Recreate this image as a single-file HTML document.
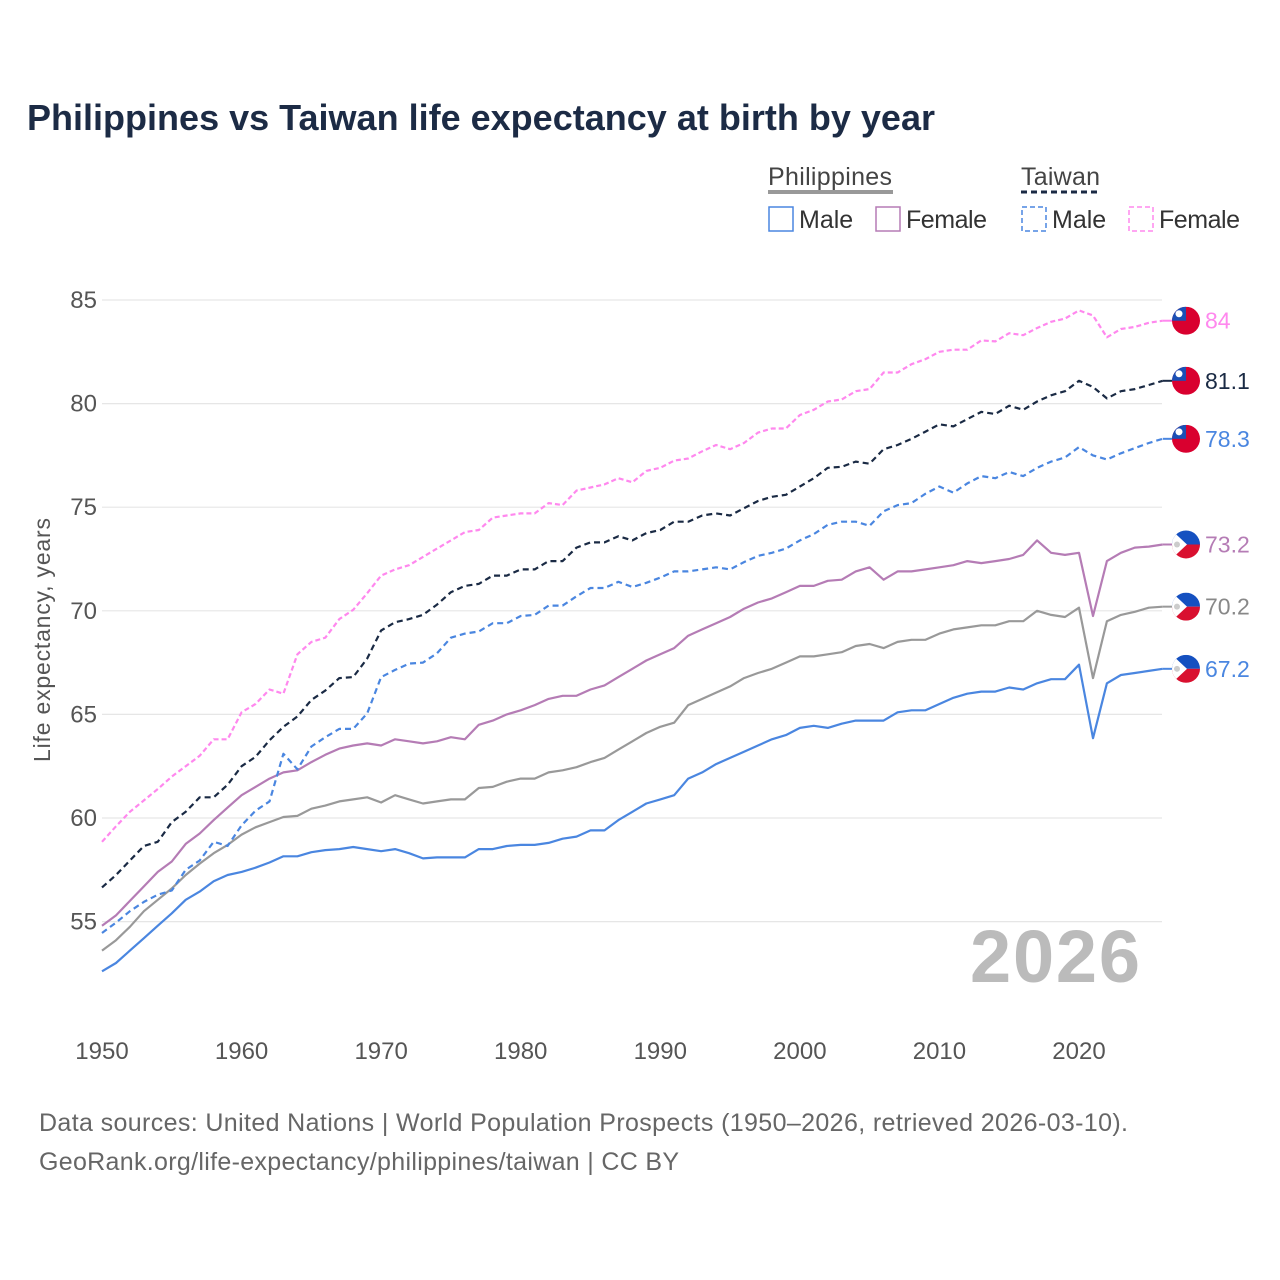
<!DOCTYPE html>
<html><head><meta charset="utf-8"><style>
body{margin:0;background:#fff;font-family:"Liberation Sans",sans-serif;}
#wrap{position:relative;width:1280px;height:1280px;overflow:hidden;}
</style></head><body>
<div id="wrap">
<svg id="chart" width="1280" height="1280" xmlns="http://www.w3.org/2000/svg">
<text x="27" y="130" font-size="36" font-weight="bold" fill="#1c2b45" textLength="908">Philippines vs Taiwan life expectancy at birth by year</text>
<g font-size="25" fill="#333">
  <text x="768" y="185" fill="#444" textLength="124">Philippines</text>
  <line x1="768" y1="192" x2="893" y2="192" stroke="#999" stroke-width="4"/>
  <text x="1021" y="185" fill="#444" textLength="79">Taiwan</text>
  <line x1="1021" y1="192" x2="1101" y2="192" stroke="#1a2a44" stroke-width="3" stroke-dasharray="6,4"/>
  <g><rect x="769" y="207" width="24" height="24" fill="none" stroke="#4a86e0" stroke-width="1.5"/><text x="799" y="228">Male</text></g>
  <g><rect x="876" y="207" width="24" height="24" fill="none" stroke="#b57cb5" stroke-width="1.5"/><text x="906" y="228" textLength="81">Female</text></g>
  <g><rect x="1022" y="207" width="24" height="24" fill="none" stroke="#4a86e0" stroke-width="1.5" stroke-dasharray="5,3"/><text x="1052" y="228">Male</text></g>
  <g><rect x="1129" y="207" width="24" height="24" fill="none" stroke="#ff88ee" stroke-width="1.5" stroke-dasharray="5,3"/><text x="1159" y="228" textLength="81">Female</text></g>
</g>
<text x="0" y="0" transform="translate(50,640) rotate(-90)" text-anchor="middle" font-size="23" fill="#555" textLength="244">Life expectancy, years</text>
<text x="1140" y="982" text-anchor="end" font-size="74" font-weight="bold" fill="#bbb" textLength="170">2026</text>
<g id="grid"></g><g id="axes"></g><g id="lines"></g><g id="ends"></g>
<g font-size="25" fill="#666">
<text x="39" y="1131" textLength="1089">Data sources: United Nations | World Population Prospects (1950–2026, retrieved 2026-03-10).</text>
<text x="39" y="1170" textLength="640">GeoRank.org/life-expectancy/philippines/taiwan | CC BY</text>
</g>
</svg>
</div>
<script>
const startYear = 1950;
const yTicks = [55, 60, 65, 70, 75, 80, 85];
const xTicks = [1950, 1960, 1970, 1980, 1990, 2000, 2010, 2020];
const phMale = [52.6,53.0,53.6,54.2,54.8,55.4,56.05,56.45,56.95,57.25,57.4,57.6,57.85,58.15,58.15,58.35,58.45,58.5,58.6,58.5,58.4,58.5,58.3,58.05,58.1,58.1,58.1,58.5,58.5,58.65,
58.7,58.7,58.8,59.0,59.1,59.4,59.4,59.9,60.3,60.7,60.9,61.1,61.9,62.2,62.6,62.9,63.2,63.5,63.8,64.0,64.35,64.45,64.35,64.55,64.7,64.7,64.7,65.1,65.2,65.2,65.5,65.8,66.0,66.1,66.1,66.3,66.2,66.5,66.7,66.7,67.4,63.85,66.5,66.9,67.0,67.1,67.2];
const phFemale = [54.8,55.3,56.0,56.7,57.4,57.9,58.75,59.25,59.9,60.5,61.1,61.5,61.9,62.2,62.3,62.7,63.05,63.35,63.5,63.6,63.5,63.8,63.7,63.6,63.7,63.9,63.8,64.5,64.7,65.0,
65.2,65.45,65.75,65.9,65.9,66.2,66.4,66.8,67.2,67.6,67.9,68.2,68.8,69.1,69.4,69.7,70.1,70.4,70.6,70.9,71.2,71.2,71.45,71.5,71.9,72.1,71.5,71.9,71.9,72.0,72.1,72.2,72.4,72.3,72.4,72.5,72.7,73.4,72.8,72.7,72.8,69.75,72.4,72.8,73.05,73.1,73.2];
const phTotal = [53.6,54.1,54.75,55.5,56.05,56.6,57.25,57.8,58.3,58.7,59.2,59.55,59.8,60.05,60.1,60.45,60.6,60.8,60.9,61.0,60.75,61.1,60.9,60.7,60.8,60.9,60.9,61.45,61.5,61.75,
61.9,61.9,62.2,62.3,62.45,62.7,62.9,63.3,63.7,64.1,64.4,64.6,65.45,65.75,66.05,66.35,66.75,67.0,67.2,67.5,67.8,67.8,67.9,68.0,68.3,68.4,68.2,68.5,68.6,68.6,68.9,69.1,69.2,69.3,69.3,69.5,69.5,70.0,69.8,69.7,70.15,66.75,69.5,69.8,69.95,70.15,70.2];
const twTotal = [56.65,57.25,57.95,58.65,58.85,59.8,60.3,61.0,61.0,61.6,62.5,62.95,63.75,64.4,64.9,65.7,66.15,66.75,66.8,67.7,69.05,69.45,69.6,69.8,70.3,70.9,71.2,71.3,71.7,71.7,
72.0,72.0,72.4,72.4,73.05,73.3,73.3,73.6,73.4,73.75,73.9,74.3,74.3,74.6,74.7,74.6,74.95,75.3,75.5,75.6,76.0,76.4,76.9,76.95,77.2,77.1,77.8,78.0,78.3,78.65,79.0,78.9,79.25,79.6,79.5,79.9,79.7,80.1,80.4,80.6,81.1,80.8,80.25,80.6,80.7,80.9,81.1];
const twMale = [54.45,54.95,55.5,55.95,56.3,56.5,57.5,57.95,58.85,58.65,59.65,60.35,60.8,63.1,62.35,63.45,63.9,64.3,64.3,65.05,66.8,67.15,67.45,67.5,67.95,68.7,68.9,69.0,69.4,69.4,
69.75,69.8,70.25,70.25,70.7,71.1,71.1,71.4,71.15,71.35,71.6,71.9,71.9,72.0,72.1,72.0,72.35,72.65,72.8,73.0,73.4,73.7,74.15,74.3,74.3,74.1,74.8,75.1,75.2,75.65,76.0,75.7,76.15,76.5,76.4,76.7,76.5,76.9,77.2,77.4,77.9,77.5,77.3,77.6,77.85,78.1,78.3];
const twFemale = [58.85,59.6,60.3,60.85,61.4,62.0,62.5,63.0,63.8,63.8,65.1,65.5,66.2,66.0,67.9,68.5,68.7,69.6,70.05,70.85,71.7,72.0,72.2,72.6,73.0,73.4,73.8,73.9,74.5,74.6,
74.7,74.7,75.2,75.1,75.8,75.95,76.1,76.4,76.2,76.75,76.9,77.25,77.35,77.7,78.0,77.8,78.1,78.6,78.8,78.8,79.45,79.7,80.1,80.2,80.6,80.7,81.5,81.5,81.9,82.15,82.5,82.6,82.6,83.05,83.0,83.4,83.3,83.65,83.95,84.1,84.5,84.25,83.2,83.6,83.7,83.9,84.0];
const endLabels = ["67.2","73.2","70.2","81.1","78.3","84"];

const NS = "http://www.w3.org/2000/svg";
function xs(year){ return 102 + (year - 1950) * (1079 - 102) / 70; }
function ys(v){ return 300 + (85 - v) * (818 - 300) / 25; }
function mk(tag, attrs, parent){ const e = document.createElementNS(NS, tag); for (const k in attrs) e.setAttribute(k, attrs[k]); parent.appendChild(e); return e; }

const grid = document.getElementById('grid'), axes = document.getElementById('axes');
yTicks.forEach(t => {
  const l = mk('line', {x1:102, x2:1162, y1:ys(t), y2:ys(t), stroke:'#e6e6e6', 'stroke-width':1.2}, grid);
  
  
  const tx = mk('text', {x:97, y:ys(t)+8, 'text-anchor':'end', 'font-size':24, fill:'#555'}, axes);
  tx.textContent = t;
  
  
});
xTicks.forEach(t => {
  const tx = mk('text', {x:xs(t), y:1059, 'text-anchor':'middle', 'font-size':24, fill:'#555'}, axes);
  tx.textContent = t;
  
  
});

const series = [
  {d:phMale, c:'#4a86e0', dash:null, n:'ph-male', flag:'ph', lc:'#4a86e0'},
  {d:phFemale, c:'#b57cb5', dash:null, n:'ph-female', flag:'ph', lc:'#b57cb5'},
  {d:phTotal, c:'#999999', dash:null, n:'ph-total', flag:'ph', lc:'#888'},
  {d:twTotal, c:'#1a2a44', dash:'6,4', n:'tw-total', flag:'tw', lc:'#1a2a44'},
  {d:twMale, c:'#4a86e0', dash:'6,4', n:'tw-male', flag:'tw', lc:'#4a86e0'},
  {d:twFemale, c:'#ff88ee', dash:'5,3', n:'tw-female', flag:'tw', lc:'#ff88ee'}
];
const lines = document.getElementById('lines'), ends = document.getElementById('ends');
series.forEach((s, i) => {
  const pts = s.d.map((v, k) => xs(startYear + k).toFixed(1) + ',' + ys(v).toFixed(1)).join(' ');
  const a = {points:pts, fill:'none', stroke:s.c, 'stroke-width':2.2, 'stroke-linejoin':'round'};
  if (s.dash) a['stroke-dasharray'] = s.dash;
  const pl = mk('polyline', a, lines);
  
  
  const last = s.d[s.d.length - 1];
  const cx = 1186, cy = ys(last);
  const g = mk('g', {}, ends);
  
  
  mk('line', {x1:xs(startYear + s.d.length - 1), x2:cx-14, y1:cy, y2:cy, stroke:s.c, 'stroke-width':2}, g);
  const cid = 'clip' + i;
  const cp = mk('clipPath', {id:cid}, g);
  mk('circle', {cx:cx, cy:cy, r:14}, cp);
  const fg = mk('g', {'clip-path':'url(#' + cid + ')'}, g);
  if (s.flag === 'tw') {
    mk('rect', {x:cx-14, y:cy-14, width:28, height:28, fill:'#d9002f'}, fg);
    mk('rect', {x:cx-14, y:cy-14, width:14, height:14, fill:'#1b4fb5'}, fg);
    mk('circle', {cx:cx-7, cy:cy-7, r:3.5, fill:'#fff'}, fg);
  } else {
    mk('rect', {x:cx-14, y:cy-14, width:28, height:14, fill:'#1550c0'}, fg);
    mk('rect', {x:cx-14, y:cy, width:28, height:14, fill:'#d9102f'}, fg);
    mk('polygon', {points:(cx-14)+','+(cy-14)+' '+(cx+1)+','+cy+' '+(cx-14)+','+(cy+14), fill:'#fff'}, fg);
    mk('circle', {cx:cx-9, cy:cy, r:3, fill:'#ccc'}, fg);
  }
  const t = mk('text', {x:1205, y:cy+8, 'font-size':23, fill:s.lc}, ends);
  t.textContent = endLabels[i];
  
  
});
</script>
</body></html>
